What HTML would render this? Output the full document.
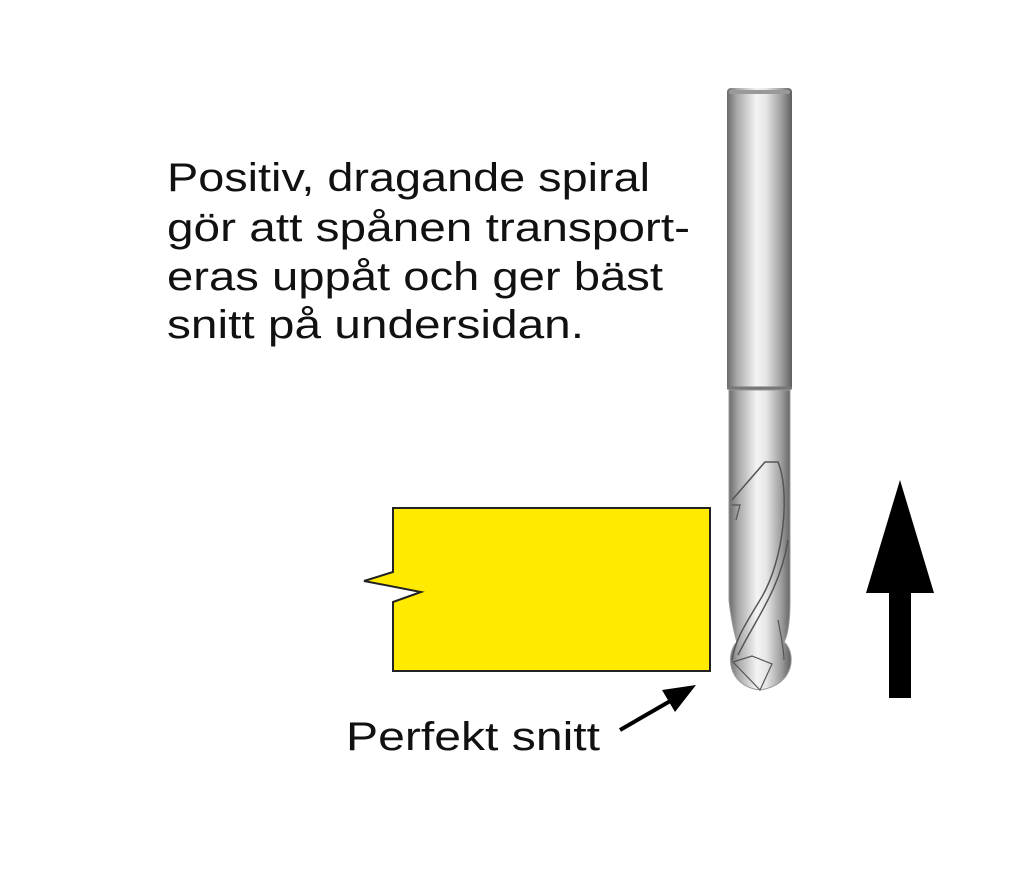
<!DOCTYPE html>
<html><head><meta charset="utf-8"><style>
html,body{margin:0;padding:0;background:#fff;}
svg{display:block}
text{font-family:"Liberation Sans",sans-serif;fill:#111;}
</style></head><body>
<svg width="1024" height="871" viewBox="0 0 1024 871" xmlns="http://www.w3.org/2000/svg">
<defs>
<linearGradient id="g" x1="0" x2="1" y1="0" y2="0">
<stop offset="0" stop-color="#6a6a6a"/>
<stop offset="0.15" stop-color="#a8a8a8"/>
<stop offset="0.45" stop-color="#f4f4f4"/>
<stop offset="0.6" stop-color="#e6e6e6"/>
<stop offset="0.85" stop-color="#9a9a9a"/>
<stop offset="1" stop-color="#5e5e5e"/>
</linearGradient>
</defs>
<text x="167" y="191" font-size="40" textLength="483" lengthAdjust="spacingAndGlyphs">Positiv, dragande spiral</text>
<text x="167" y="241" font-size="40" textLength="523" lengthAdjust="spacingAndGlyphs">gör att spånen transport-</text>
<text x="167" y="290" font-size="40" textLength="496" lengthAdjust="spacingAndGlyphs">eras uppåt och ger bäst</text>
<text x="167" y="338" font-size="40" textLength="417" lengthAdjust="spacingAndGlyphs">snitt på undersidan.</text>
<text x="346" y="750" font-size="40" textLength="254" lengthAdjust="spacingAndGlyphs">Perfekt snitt</text>
<path d="M393,508 L710,508 L710,671 L393,671 L393,602 L421,592 L364,581 L393,572 Z" fill="#ffea00" stroke="#222" stroke-width="2"/>
<line x1="620" y1="730" x2="672" y2="700" stroke="#000" stroke-width="4"/>
<polygon points="696,685 662,690 675,712" fill="#000"/>
<rect x="727" y="88" width="65" height="302" rx="4" fill="url(#g)"/>
<rect x="729" y="90" width="61" height="4" rx="2" fill="#999"/>
<line x1="727" y1="388" x2="792" y2="388" stroke="#777" stroke-width="3"/>
<path d="M729,390 L790,390 L790,600 C790,620 788,635 784,642 C796,652 796,685 760,690 C726,686 726,652 737,642 C733,630 730,610 729,600 Z" fill="url(#g)" stroke="#999" stroke-width="1"/>
<path d="M732,500 L765,462 L778,462 C790,490 785,560 760,600 C745,625 735,640 732,660" fill="none" stroke="#555" stroke-width="1.5"/>
<path d="M732,505 L740,505 L736,520" fill="none" stroke="#555" stroke-width="1.2"/>
<path d="M788,540 C780,590 755,620 738,655" fill="none" stroke="#555" stroke-width="1.5"/>
<path d="M733,662 L752,656 L772,664 L760,690 Z" fill="none" stroke="#555" stroke-width="1.2"/>
<path d="M778,620 C782,640 784,655 784,660" fill="none" stroke="#555" stroke-width="1.2"/>
<polygon points="900,480 934,593 866,593" fill="#000"/>
<rect x="889" y="590" width="22" height="108" fill="#000"/>
</svg>
</body></html>
